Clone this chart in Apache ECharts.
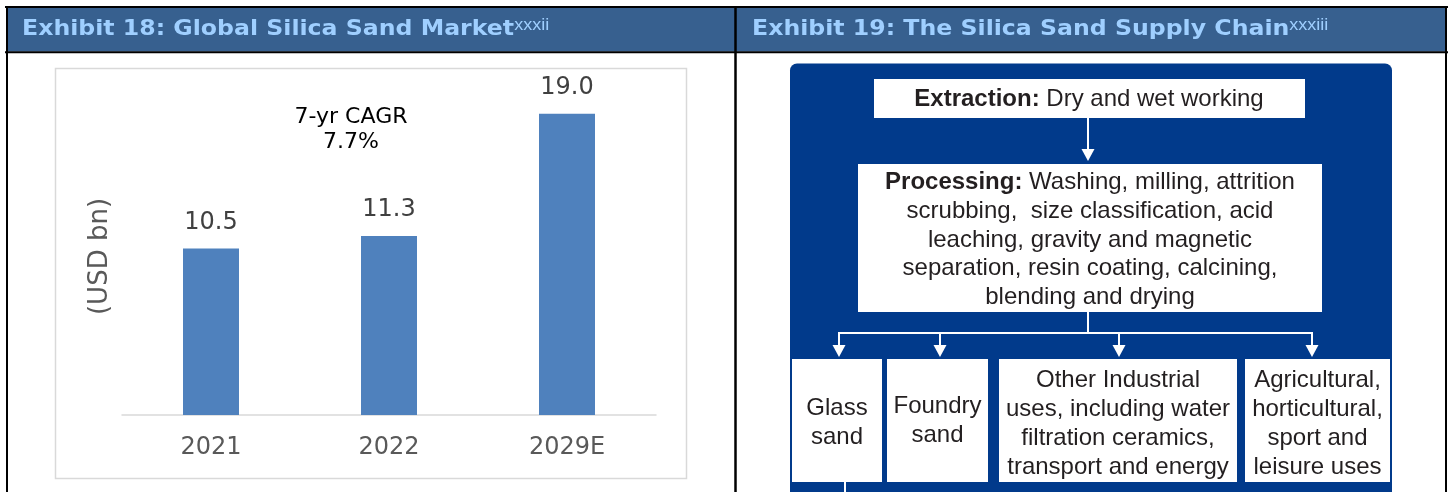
<!DOCTYPE html>
<html>
<head>
<meta charset="utf-8">
<title>Global Silica Sand Market and Supply Chain</title>
<script src="https://cdn.jsdelivr.net/npm/echarts@6/dist/echarts.min.js"></script>
<style>
  html, body { margin: 0; padding: 0; background: #ffffff; }
  #chart { width: 1449px; height: 492px; }
</style>
</head>
<body>
<div id="chart"></div>
<script>
// ---- Exhibit 18: market size data ----
const categories = ['2021', '2022', '2029E'];
const marketValues = [10.5, 11.3, 19.0];
const yAxisTitle = '(USD bn)';
const cagrLabel = ['7-yr CAGR', '7.7%'];

// ---- Exhibit titles ----
const leftTitle = 'Exhibit 18: Global Silica Sand Market';
const leftNote = 'xxxii';
const rightTitle = 'Exhibit 19: The Silica Sand Supply Chain';
const rightNote = 'xxxiii';

// ---- Exhibit 19: supply chain stages ----
const extractionHead = 'Extraction:';
const extractionBody = 'Dry and wet working';
const processingHead = 'Processing:';
const processingLines = [
  'Washing, milling, attrition',
  'scrubbing,  size classification, acid',
  'leaching, gravity and magnetic',
  'separation, resin coating, calcining,',
  'blending and drying'
];
const endUses = [
  ['Glass', 'sand'],
  ['Foundry', 'sand'],
  ['Other Industrial', 'uses, including water', 'filtration ceramics,', 'transport and energy'],
  ['Agricultural,', 'horticultural,', 'sport and', 'leisure uses']
];

// ---- styling ----
const HEADER_BLUE = '#37608F';
const HEADER_TEXT = '#9FCFFF';
const PANEL_BLUE = '#013A8B';
const BAR_BLUE = '#4F81BD';
const DIAGRAM_FONT = '"Liberation Sans", Arial, sans-serif';
const CHART_FONT = '"DejaVu Sans", Verdana, sans-serif';
const TITLE_FONT = '"DejaVu Sans", Verdana, sans-serif';

const chart = echarts.init(document.getElementById('chart'), null, { renderer: 'canvas' });

function line(x1, y1, x2, y2, color, width) {
  return {
    type: 'line',
    shape: { x1: x1, y1: y1, x2: x2, y2: y2 },
    style: { stroke: color, lineWidth: width }
  };
}

function arrowHead(x, tipY) {
  return {
    type: 'polygon',
    shape: { points: [[x - 6.5, tipY - 12], [x + 6.5, tipY - 12], [x, tipY]] },
    style: { fill: '#ffffff' }
  };
}

function whiteBox(x, y, w, h) {
  return { type: 'rect', shape: { x: x, y: y, width: w, height: h }, style: { fill: '#ffffff' } };
}

function boxText(cx, cy, text, rich) {
  return {
    type: 'text',
    style: {
      x: cx, y: cy, text: text,
      align: 'center', verticalAlign: 'middle',
      fontFamily: DIAGRAM_FONT, fontSize: 24, lineHeight: 28.8,
      fill: '#231F20',
      rich: rich
    }
  };
}

const boldRich = {
  b: { fontFamily: DIAGRAM_FONT, fontSize: 24, fontWeight: 'bold', fill: '#231F20', lineHeight: 28.8 },
  n: { fontFamily: DIAGRAM_FONT, fontSize: 24, fill: '#231F20', lineHeight: 28.8 }
};

// Header titles: bold wide face, stretched slightly, with a superscript note
function titleText(x, title, note) {
  return {
    type: 'text',
    x: x, y: 30,
    scaleX: 1.125,
    style: {
      x: 0, y: 0,
      text: '{t|' + title + '}{s|' + note + '}',
      verticalAlign: 'middle',
      rich: {
        t: { fontFamily: TITLE_FONT, fontWeight: 'bold', fontSize: 21, fill: HEADER_TEXT, lineHeight: 25 },
        s: { fontFamily: '"Liberation Sans", Arial, sans-serif', fontSize: 16, fill: HEADER_TEXT, lineHeight: 16, verticalAlign: 'top' }
      }
    }
  };
}

// Geometry of the end-use boxes (left, right)
const useBoxes = [[792, 882], [887, 988], [999, 1237], [1245, 1390]];
const useTextY = [423, 421, 424, 424];
const dropX = [839, 940, 1119, 1312];

const diagram = [
  // panel
  { type: 'rect', shape: { x: 790, y: 63.5, width: 602, height: 440, r: [7, 7, 0, 0] }, style: { fill: PANEL_BLUE } },
  // extraction
  whiteBox(874, 79, 431, 39),
  boxText(1089, 99, '{b|' + extractionHead + '}{n| ' + extractionBody + '}', boldRich),
  line(1088, 118, 1088, 150, '#ffffff', 2),
  arrowHead(1088, 161),
  // processing
  whiteBox(858, 164, 464, 148),
  boxText(1090, 240,
    '{b|' + processingHead + '}{n| ' + processingLines[0] + '}\n' +
    processingLines.slice(1).map(function (s) { return '{n|' + s + '}'; }).join('\n'),
    boldRich),
  line(1088, 312, 1088, 333, '#ffffff', 2),
  line(dropX[0], 333, dropX[3], 333, '#ffffff', 2)
];

dropX.forEach(function (x) {
  diagram.push(line(x, 332, x, 346, '#ffffff', 2));
  diagram.push(arrowHead(x, 357));
});

useBoxes.forEach(function (b, i) {
  diagram.push(whiteBox(b[0], 359, b[1] - b[0], 123));
  diagram.push(boxText((b[0] + b[1]) / 2, useTextY[i], endUses[i].join('\n')));
});
diagram.push(line(845, 482, 845, 495, '#ffffff', 2));

const frame = [
  // header band
  { type: 'rect', shape: { x: 7, y: 8, width: 1439, height: 43.5 }, style: { fill: HEADER_BLUE } },
  titleText(22, leftTitle, leftNote),
  titleText(752, rightTitle, rightNote),
  // table rules
  line(5, 7, 1448, 7, '#000000', 2),
  line(5, 52.2, 1448, 52.2, '#000000', 2),
  line(7, 6, 7, 492, '#000000', 2),
  line(735.5, 6, 735.5, 492, '#000000', 2.5),
  line(1446, 6, 1446, 492, '#000000', 2),
  // chart area outline
  { type: 'rect', shape: { x: 55.5, y: 68.5, width: 631, height: 410 }, style: { fill: 'none', stroke: '#D9D9D9', lineWidth: 1.5 } },
  // CAGR annotation
  {
    type: 'text',
    style: {
      x: 351, y: 130, text: cagrLabel.join('\n'),
      align: 'center', verticalAlign: 'middle',
      fontFamily: CHART_FONT, fontSize: 22, lineHeight: 25, fill: '#000000'
    }
  }
];

const option = {
  backgroundColor: '#ffffff',
  animation: false,
  grid: { left: 122, right: 793, top: 98, bottom: 77 },
  xAxis: {
    type: 'category',
    data: categories,
    axisLine: { lineStyle: { color: '#D9D9D9', width: 1.5 } },
    axisTick: { show: false },
    axisLabel: { fontFamily: CHART_FONT, fontSize: 24, color: '#595959', margin: 21 }
  },
  yAxis: {
    type: 'value',
    min: 0,
    max: 20,
    axisLine: { show: false },
    axisTick: { show: false },
    axisLabel: { show: false },
    splitLine: { show: false },
    name: yAxisTitle,
    nameLocation: 'middle',
    nameRotate: 90,
    nameGap: 9,
    nameTextStyle: { fontFamily: CHART_FONT, fontSize: 26, color: '#595959' }
  },
  series: [{
    type: 'bar',
    data: marketValues,
    barWidth: 56,
    itemStyle: { color: BAR_BLUE },
    label: {
      show: true,
      position: 'top',
      distance: 14,
      fontFamily: CHART_FONT,
      fontSize: 24,
      color: '#404040',
      formatter: function (p) { return p.value.toFixed(1); }
    }
  }],
  graphic: { elements: frame.concat(diagram) }
};

chart.setOption(option);
</script>
</body>
</html>
